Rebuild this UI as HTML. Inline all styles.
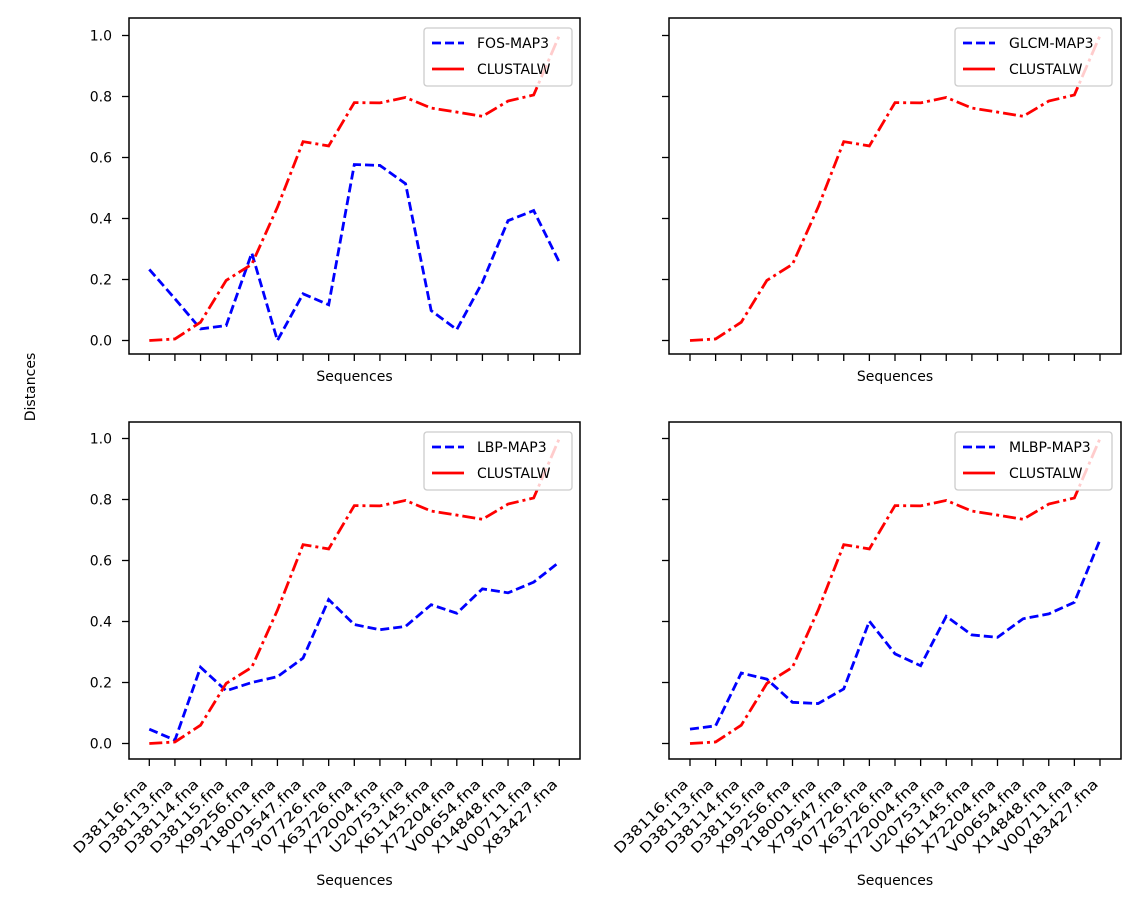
<!DOCTYPE html>
<html><head><meta charset="utf-8"><style>
body{margin:0;background:#fff}
svg{display:block;font-family:"DejaVu Sans","Liberation Sans",sans-serif}
</style></head><body>
<svg id="fig" width="1140" height="909" viewBox="0 0 1140 909" xmlns="http://www.w3.org/2000/svg">
<text x="35" y="387" font-size="14" text-anchor="middle" transform="rotate(-90 35 387)">Distances</text>
</svg>
<script>
const categories=["D38116.fna","D38113.fna","D38114.fna","D38115.fna","X99256.fna","Y18001.fna","X79547.fna","Y07726.fna","X63726.fna","X72004.fna","U20753.fna","X61145.fna","X72204.fna","V00654.fna","X14848.fna","V00711.fna","X83427.fna"];
const clustalw=[0,0.005,0.06,0.197,0.25,0.437,0.652,0.638,0.78,0.779,0.797,0.762,0.749,0.735,0.785,0.805,1.0];
const fos=[0.233,0.137,0.038,0.049,0.287,0,0.153,0.117,0.577,0.574,0.514,0.098,0.036,0.191,0.393,0.426,0.257];
const glcm=[];
const lbp=[0.047,0.011,0.25,0.173,0.2,0.219,0.28,0.472,0.39,0.373,0.384,0.455,0.427,0.507,0.494,0.529,0.595];
const mlbp=[0.047,0.058,0.231,0.211,0.135,0.131,0.179,0.401,0.294,0.255,0.417,0.356,0.348,0.409,0.425,0.463,0.668];
const yTicks=[0,0.2,0.4,0.6,0.8,1.0];
const yTickLabels=["0.0","0.2","0.4","0.6","0.8","1.0"];
const seriesNames=["FOS-MAP3","GLCM-MAP3","LBP-MAP3","MLBP-MAP3"];

const NS="http://www.w3.org/2000/svg";
const svg=document.getElementById('fig');
function mk(tag,attrs,parent){const e=document.createElementNS(NS,tag);for(const k in attrs)e.setAttribute(k,attrs[k]);(parent||svg).appendChild(e);return e;}

const panels=[
 {l:129,r:580,t:18,b:354,y0:340.5,y1:35.5,x0:149.3,data:fos,name:seriesNames[0],yl:true,xl:false,key:'fos'},
 {l:669,r:1121,t:18,b:354,y0:340.5,y1:35.5,x0:690,data:glcm,name:seriesNames[1],yl:false,xl:false,key:'glcm'},
 {l:129,r:580,t:422,b:759,y0:743.5,y1:438.5,x0:149.3,data:lbp,name:seriesNames[2],yl:true,xl:true,key:'lbp'},
 {l:669,r:1121,t:422,b:759,y0:743.5,y1:438.5,x0:690,data:mlbp,name:seriesNames[3],yl:false,xl:true,key:'mlbp'}
];
const step=25.625;
panels.forEach(p=>{
 const g=mk('g',{});
 
 
 const X=i=>p.x0+i*step;
 const Y=v=>p.y0+(p.y1-p.y0)*v;
 yTicks.forEach((v,i)=>{
  const tk=mk('line',{x1:p.l-7,x2:p.l,y1:Y(v),y2:Y(v),stroke:'#000','stroke-width':1.3},g);
  
  
  if(p.yl){const t=mk('text',{x:p.l-17,y:Y(v)+5,'font-size':14,'text-anchor':'end'},g);t.textContent=yTickLabels[i];
   
   }
 });
 categories.forEach((c,i)=>{
  const tk=mk('line',{x1:X(i),x2:X(i),y1:p.b,y2:p.b+7,stroke:'#000','stroke-width':1.3},g);
  
  
  if(p.xl){const ax=X(i)-1,ay=p.b+26;
   const t=mk('text',{x:ax,y:ay,'font-size':14,'text-anchor':'end',textLength:98,lengthAdjust:'spacingAndGlyphs',transform:`rotate(-45 ${ax} ${ay})`},g);t.textContent=c;
   
   }
 });
 const xt=mk('text',{x:(p.l+p.r)/2,y:p.xl?885:381,'font-size':14,'text-anchor':'middle'},g);xt.textContent='Sequences';
 
 
 if(p.data.length){
  const pl=mk('polyline',{points:p.data.map((v,i)=>X(i)+','+Y(v)).join(' '),fill:'none',stroke:'#0000ff','stroke-width':2.8,'stroke-dasharray':'9,4'},g);
  
  
 }
 const rl=mk('polyline',{points:clustalw.map((v,i)=>X(i)+','+Y(v)).join(' '),fill:'none',stroke:'#ff0000','stroke-width':2.8,'stroke-dasharray':'13,4,3,4'},g);
 
 
 const fr=mk('rect',{x:p.l,y:p.t,width:p.r-p.l,height:p.b-p.t,fill:'none',stroke:'#000','stroke-width':1.5},g);
 
 
 const wide=p.key==='mlbp'||p.key==='glcm';
 const lx=wide?p.r-166:p.r-156,ly=p.t+10,lw=wide?157:148;
 const lg=mk('g',{},g);
 
 
 mk('rect',{x:lx,y:ly,width:lw,height:58,rx:3,fill:'#fff','fill-opacity':0.8,stroke:'#ccc','stroke-width':1.3},lg);
 mk('line',{x1:lx+8,x2:lx+40,y1:ly+15,y2:ly+15,stroke:'#0000ff','stroke-width':2.8,'stroke-dasharray':'9,4'},lg);
 mk('line',{x1:lx+8,x2:lx+40,y1:ly+41,y2:ly+41,stroke:'#ff0000','stroke-width':2.8},lg);
 const tx=wide?lx+54:lx+53;
 const t1=mk('text',{x:tx,y:ly+20,'font-size':14},lg);t1.textContent=p.name;
 
 
 const t2=mk('text',{x:tx,y:ly+46,'font-size':14},lg);t2.textContent='CLUSTALW';
 
 
});
</script>
</body></html>
